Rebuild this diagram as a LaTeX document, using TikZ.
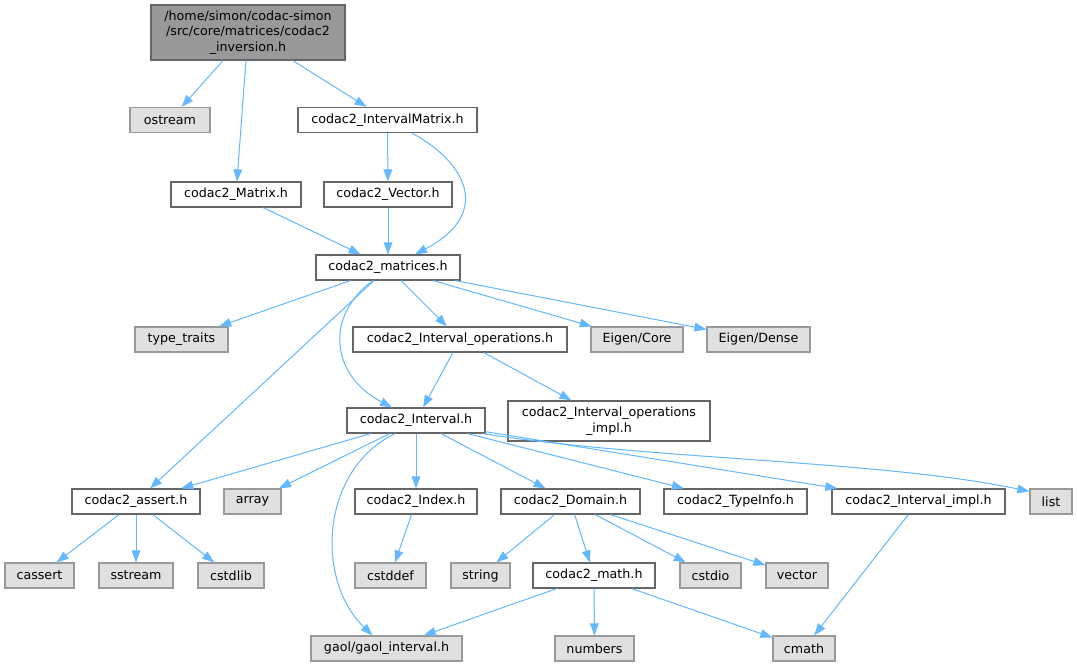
\documentclass[tikz,border=0pt]{standalone}
\usepackage{fontspec}
\setmainfont{DejaVu Sans}
\usetikzlibrary{arrows.meta,calc}
\definecolor{edgec}{HTML}{63B8FF}
\definecolor{bord}{HTML}{666666}
\definecolor{extb}{HTML}{999999}
\definecolor{extf}{HTML}{E0E0E0}
\definecolor{rootf}{HTML}{999999}
\begin{document}
\begin{tikzpicture}[x=0.75pt,y=-0.75pt,
 box/.style={draw=bord, fill=white, line width=0.9pt, inner sep=0pt, minimum height=18.75pt, font=\fontsize{9.5}{11.6}\selectfont, align=center},
 ext/.style={box, draw=extb, fill=extf},
 rootbox/.style={box, fill=rootf, minimum height=41.25pt},
 bw/.style={minimum width=#1*0.75pt},
 e/.style={draw=edgec, line width=0.75pt, -{Triangle[length=9pt,width=6.5pt]}}]
\fill[white] (0,0) rectangle (1077,667);
\useasboundingbox (0,0) rectangle (1077,667);
\node[rootbox,bw=194] (root) at (248,32.5) {/home/simon/codac-simon\\/src/core/matrices/codac2\\\_inversion.h};
\node[ext,bw=80] (ostream) at (170,120) {ostream};
\node[box,bw=179] (IM) at (387.5,120) {codac2\_IntervalMatrix.h};
\node[box,bw=130] (Mat) at (236,194.5) {codac2\_Matrix.h};
\node[box,bw=128] (Vec) at (388,194.5) {codac2\_Vector.h};
\node[box,bw=144] (mats) at (388,267.5) {codac2\_matrices.h};
\node[ext,bw=93] (tt) at (181.5,339.5) {type\_traits};
\node[box,bw=214] (ops) at (460,339.5) {codac2\_Interval\_operations.h};
\node[ext,bw=92] (ecore) at (637,339.5) {Eigen/Core};
\node[ext,bw=103] (edense) at (758.5,339.5) {Eigen/Dense};
\node[box,bw=202,minimum height=30pt] (opsi) at (609,421) {codac2\_Interval\_operations\\\_impl.h};
\node[box,bw=138] (itv) at (416,420.5) {codac2\_Interval.h};
\node[box,bw=128] (asrt) at (136,501.5) {codac2\_assert.h};
\node[ext,bw=57] (array) at (252.5,501.5) {array};
\node[box,bw=122] (idx) at (416,501.5) {codac2\_Index.h};
\node[box,bw=139] (dom) at (570.5,501.5) {codac2\_Domain.h};
\node[box,bw=143] (tinfo) at (735.5,501.5) {codac2\_TypeInfo.h};
\node[box,bw=173] (iimpl) at (918.5,501.5) {codac2\_Interval\_impl.h};
\node[ext,bw=42] (list) at (1051,501.5) {list};
\node[ext,bw=69] (cassert) at (39.5,575.5) {cassert};
\node[ext,bw=74] (sstream) at (136,575.5) {sstream};
\node[ext,bw=66] (cstdlib) at (231,575.5) {cstdlib};
\node[ext,bw=71] (cstddef) at (390.5,575.5) {cstddef};
\node[ext,bw=59] (string) at (480.5,575.5) {string};
\node[box,bw=122] (math) at (594,575.5) {codac2\_math.h};
\node[ext,bw=61] (cstdio) at (710.5,575.5) {cstdio};
\node[ext,bw=62] (vector) at (797,575.5) {vector};
\node[ext,bw=151] (gaol) at (386.5,648.5) {gaol/gaol\_interval.h};
\node[ext,bw=79] (numbers) at (594.5,648.5) {numbers};
\node[ext,bw=62] (cmath) at (804,648.5) {cmath};
% straight edges
\draw[e] (root) -- (ostream);
\draw[e] (root) -- (Mat);
\draw[e] (root) -- (IM);
\draw[e] (IM) -- (Vec);
\draw[e] (Mat) -- (mats);
\draw[e] (Vec) -- (mats);
\draw[e] (mats) -- (tt);
\draw[e] (mats) -- (asrt);
\draw[e] (mats) -- (ops);
\draw[e] (mats) -- (ecore);
\draw[e] (mats) -- (edense);
\draw[e] (ops) -- (itv);
\draw[e] (ops) -- (opsi);
\draw[e] (itv) -- (asrt);
\draw[e] (itv) -- (array);
\draw[e] (itv) -- (idx);
\draw[e] (itv) -- (dom);
\draw[e] (itv) -- (tinfo);
\draw[e] (itv) -- (iimpl);
\draw[e] (asrt) -- (cassert);
\draw[e] (asrt) -- (sstream);
\draw[e] (asrt) -- (cstdlib);
\draw[e] (idx) -- (cstddef);
\draw[e] (dom) -- (string);
\draw[e] (dom) -- (math);
\draw[e] (dom) -- (cstdio);
\draw[e] (dom) -- (vector);
\draw[e] (math) -- (gaol);
\draw[e] (math) -- (numbers);
\draw[e] (math) -- (cmath);
\draw[e] (iimpl) -- (cmath);
% curved edges
\draw[e] ($(IM.south)+(24.5,0)$) .. controls (470,165) and (490,215) .. ($(mats.north)+(27,0)$);
\draw[e] ($(mats.south)+(-15,0)$) .. controls (325,315) and (330,375) .. ($(itv.north)+(-24,0)$);
\draw[e] ($(itv.south)+(-21,0)$) .. controls (320,470) and (315,580) .. ($(gaol.north)+(-14,0)$);
\draw[e] ($(itv.south east)+(-3,0)$) .. controls (650,460) and (880,460) .. ($(list.north west)+(0,3)$);
\end{tikzpicture}
\end{document}
